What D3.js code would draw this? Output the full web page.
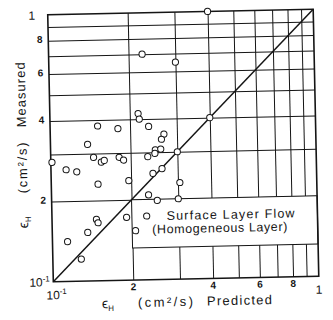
<!DOCTYPE html>
<html>
<head>
<meta charset="utf-8">
<script src="https://cdn.jsdelivr.net/npm/d3@7"></script>
<style>
  body { margin: 0; background: #fff; }
  svg { display: block; font-family: "Liberation Sans", Arial, sans-serif; }
</style>
</head>
<body>
<script>
// eddy diffusivity, cm^2/s
const predicted = [0.40, 0.225, 0.30, 0.40, 0.215, 0.217, 0.101, 0.151, 0.18, 0.235,
  0.268, 0.262, 0.138, 0.145, 0.155, 0.159, 0.181, 0.188, 0.114, 0.125,
  0.15, 0.196, 0.232, 0.248, 0.247, 0.26, 0.30, 0.242, 0.262, 0.305,
  0.30, 0.25, 0.232, 0.191, 0.147, 0.149, 0.136, 0.114, 0.128, 0.206];
const measured = [1.00, 0.70, 0.65, 0.40, 0.42, 0.40, 0.28, 0.38, 0.37, 0.375,
  0.35, 0.335, 0.325, 0.29, 0.278, 0.282, 0.289, 0.282, 0.262, 0.257,
  0.23, 0.236, 0.289, 0.306, 0.297, 0.308, 0.30, 0.25, 0.26, 0.23,
  0.20, 0.198, 0.208, 0.172, 0.17, 0.165, 0.152, 0.141, 0.121, 0.153];

const gridValues = [0.2, 0.3, 0.4, 0.5, 0.6, 0.7, 0.8, 0.9];
const xTickValues = [0.1, 0.2, 0.4, 0.6, 0.8, 1];
const xTickLabels = ["10⁻¹", "2", "4", "6", "8", "1"];
const yTickValues = [0.1, 0.2, 0.4, 0.6, 0.8, 1];
const yTickLabels = ["10⁻¹", "2", "4", "6", "8", "1"];
const legendLines = ["Surface Layer Flow", "(Homogeneous Layer)"];
const legendBottom = 0.132;

const width = 333, height = 320;
const margin = { top: 12, right: 17, bottom: 41, left: 50.5 };
const w = width - margin.left - margin.right;
const h = height - margin.top - margin.bottom;
const tilt = -1.2; // the scanned page sits slightly rotated
const ink = "#151515";

const svg = d3.select("body").append("svg")
  .attr("width", width)
  .attr("height", height);

svg.append("rect").attr("width", width).attr("height", height).attr("fill", "#fff");

const page = svg.append("g")
  .attr("transform", `rotate(${tilt}, ${margin.left + w / 2}, ${margin.top + h / 2})`);

const plot = page.append("g")
  .attr("transform", `translate(${margin.left},${margin.top})`);

const x = d3.scaleLog().domain([0.1, 1]).range([0, w]);
const y = d3.scaleLog().domain([0.1, 1]).range([h, 0]);

// grid
plot.append("g")
  .attr("transform", `translate(0,${h})`)
  .call(d3.axisBottom(x).tickValues(gridValues).tickSize(-h).tickFormat(""))
  .call(g => g.select(".domain").remove())
  .selectAll("line").attr("stroke", ink).attr("stroke-width", 1);

plot.append("g")
  .call(d3.axisLeft(y).tickValues(gridValues).tickSize(-w).tickFormat(""))
  .call(g => g.select(".domain").remove())
  .selectAll("line").attr("stroke", ink).attr("stroke-width", 1);

// legend box hides the grid underneath
const bx = x(0.2), by = y(0.2);
plot.append("rect")
  .attr("x", bx).attr("y", by)
  .attr("width", w - bx).attr("height", y(legendBottom) - by)
  .attr("fill", "#fff").attr("stroke", ink).attr("stroke-width", 1);

// 1:1 line
plot.append("line")
  .attr("x1", x(0.1)).attr("y1", y(0.1))
  .attr("x2", x(1)).attr("y2", y(1))
  .attr("stroke", ink).attr("stroke-width", 1.5);

// frame
plot.append("rect")
  .attr("width", w).attr("height", h)
  .attr("fill", "none").attr("stroke", ink).attr("stroke-width", 1.6);

// points
plot.append("g")
  .selectAll("circle")
  .data(predicted.map((p, i) => [p, measured[i]]))
  .enter().append("circle")
  .attr("cx", d => x(d[0]))
  .attr("cy", d => y(d[1]))
  .attr("r", 3.1)
  .attr("fill", "#fff")
  .attr("stroke", ink)
  .attr("stroke-width", 1);

// legend
plot.append("circle")
  .attr("cx", bx + 14.8).attr("cy", by + 16.6).attr("r", 3.1)
  .attr("fill", "#fff").attr("stroke", ink).attr("stroke-width", 1);

plot.append("text")
  .attr("x", bx + 34.7).attr("y", by + 21)
  .attr("font-size", 12.5).attr("fill", ink)
  .attr("textLength", 128).attr("lengthAdjust", "spacing")
  .text(legendLines[0]);

plot.append("text")
  .attr("x", bx + 20.1).attr("y", by + 34.3)
  .attr("font-size", 12.5).attr("fill", ink)
  .attr("textLength", 135).attr("lengthAdjust", "spacing")
  .text(legendLines[1]);

// tick labels
function writeLabel(sel, label, big) {
  if (label.includes("⁻")) {
    sel.attr("font-size", 12).attr("font-weight", "normal").text("10");
    sel.append("tspan").attr("font-size", 8).attr("dy", -5).text("-1");
  } else {
    sel.attr("font-size", big ? 12 : 10)
      .attr("font-weight", big ? "normal" : "bold")
      .text(label);
  }
}

xTickValues.forEach((v, i) => {
  const lab = xTickLabels[i];
  const decade = lab === "1" || lab.includes("⁻");
  const t = plot.append("text")
    .attr("x", x(v) + (lab.includes("⁻") ? 3 : 0))
    .attr("y", h + (decade ? 17.5 : 10.2))
    .attr("text-anchor", "middle")
    .attr("fill", ink);
  writeLabel(t, lab, decade);
});

yTickValues.forEach((v, i) => {
  const lab = yTickLabels[i];
  const decade = lab === "1" || lab.includes("⁻");
  const t = plot.append("text")
    .attr("y", y(v) + (decade ? 4.5 : 2.2))
    .attr("fill", ink);
  if (lab.includes("⁻")) {
    t.attr("x", -3.5).attr("text-anchor", "end");
  } else if (decade) {
    t.attr("x", -16).attr("text-anchor", "middle");
  } else {
    t.attr("x", -8.5).attr("text-anchor", "middle");
  }
  writeLabel(t, lab, decade);
});

// axis titles
const xt = page.append("g").attr("fill", ink).attr("font-size", 13);
const eps = xt.append("text").attr("x", 98.6).attr("y", 306.5).attr("font-size", 14).text("ϵ");
eps.append("tspan").attr("font-size", 8).attr("dy", 3).text("H");
xt.append("text").attr("x", 134.7).attr("y", 306)
  .attr("textLength", 55).attr("lengthAdjust", "spacing").text("(cm²/s)");
xt.append("text").attr("x", 203.7).attr("y", 306)
  .attr("textLength", 65).attr("lengthAdjust", "spacing").text("Predicted");

const yt = page.append("g").attr("fill", ink).attr("font-size", 13);
const yLabel = (txt, start, len) => yt.append("text")
  .attr("transform", `translate(26.5,${start}) rotate(-90)`)
  .attr("textLength", len).attr("lengthAdjust", "spacing")
  .text(txt);
const eps2 = yt.append("text")
  .attr("transform", "translate(26.5,225) rotate(-90)")
  .attr("font-size", 14).text("ϵ");
eps2.append("tspan").attr("font-size", 8).attr("dy", 3).text("H");
yLabel("(cm²/s)", 190, 51);
yLabel("Measured", 124, 65);
</script>
</body>
</html>
